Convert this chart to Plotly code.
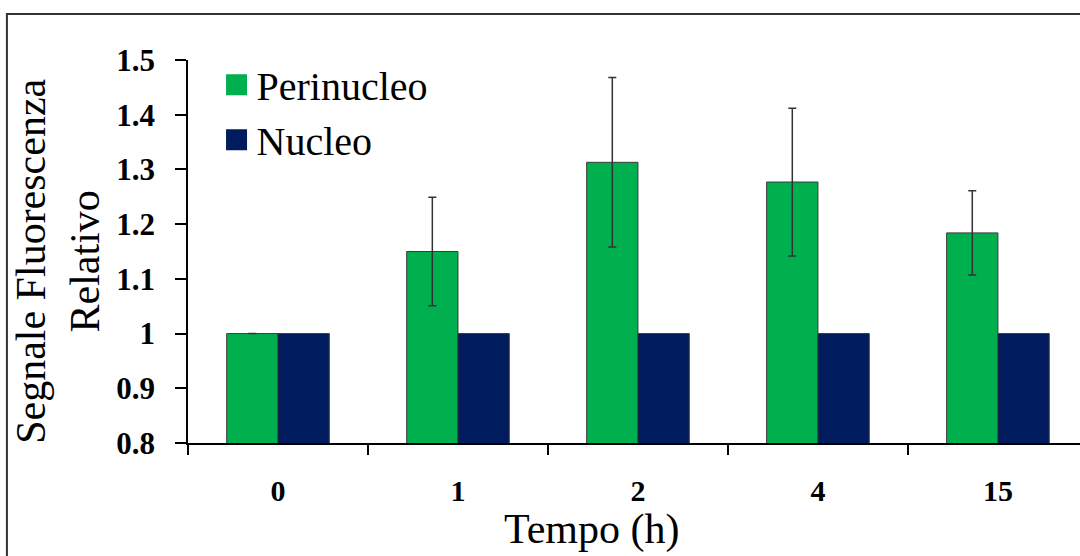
import plotly.graph_objects as go

# Time points (hours) and relative fluorescence signal
time_labels = ["0", "1", "2", "4", "15"]
perinucleo = [1.0, 1.15, 1.313, 1.277, 1.184]
perinucleo_err = [0.0, 0.099, 0.155, 0.135, 0.077]
nucleo = [1.0, 1.0, 1.0, 1.0, 1.0]

y_tick_vals = [0.8, 0.9, 1.0, 1.1, 1.2, 1.3, 1.4, 1.5]
y_tick_text = ["0.8", "0.9", "1", "1.1", "1.2", "1.3", "1.4", "1.5"]

GREEN = "#00B04F"
NAVY = "#001B5E"
SERIF = "Liberation Serif"

fig = go.Figure()

fig.add_trace(go.Bar(
    x=time_labels, y=perinucleo, name="Perinucleo",
    marker=dict(color=GREEN, line=dict(color="#3a3a3a", width=1)),
    error_y=dict(type="data", array=perinucleo_err, visible=True,
                 color="#333333", thickness=1.5, width=4),
    showlegend=False,
))
fig.add_trace(go.Bar(
    x=time_labels, y=nucleo, name="Nucleo",
    marker=dict(color=NAVY, line=dict(color="#3a3a3a", width=1)),
    showlegend=False,
))

# Legend entries with large square swatches
for name, col in [("Perinucleo", GREEN), ("Nucleo", NAVY)]:
    fig.add_trace(go.Scatter(
        x=[None], y=[None], mode="markers", name=name,
        marker=dict(symbol="square", size=16, color=col,
                    line=dict(color=col, width=5)),
    ))

fig.update_layout(
    width=1080, height=556,
    margin=dict(l=188, r=0, t=60, b=113),
    paper_bgcolor="white", plot_bgcolor="white",
    barmode="group", bargap=0.43, bargroupgap=0,
    font=dict(family=SERIF, color="black"),
    legend=dict(
        x=0.032, y=1.02, xanchor="left", yanchor="top",
        bgcolor="rgba(0,0,0,0)", font=dict(size=40, family=SERIF),
        itemsizing="trace", tracegroupgap=0,
    ),
    xaxis=dict(
        type="category", range=[-0.5, 4.456],
        showline=True, linecolor="black", linewidth=1.5,
        ticks="outside", tickson="boundaries", ticklen=10,
        tickcolor="black", tickwidth=1.5,
        tickfont=dict(size=30, family=SERIF, weight="bold"),
        ticklabelstandoff=20, showgrid=False, zeroline=False,
    ),
    yaxis=dict(
        range=[0.8, 1.5], tickvals=y_tick_vals, ticktext=y_tick_text,
        showline=True, linecolor="black", linewidth=1.5,
        ticks="outside", ticklen=11, tickcolor="black", tickwidth=1.5,
        tickfont=dict(size=31, family=SERIF, weight="bold"),
        ticklabelstandoff=14, showgrid=False, zeroline=False,
    ),
    annotations=[
        dict(text="Tempo (h)", xref="paper", yref="paper",
             x=0.453, y=-0.225, xanchor="center", yanchor="middle",
             showarrow=False, font=dict(size=42, family=SERIF)),
        dict(text="Segnale Fluorescenza<br>Relativo", xref="paper", yref="paper",
             x=-0.146, y=0.475, xanchor="center", yanchor="middle",
             textangle=-90, showarrow=False,
             font=dict(size=42, family=SERIF)),
    ],
    shapes=[
        dict(type="rect", xref="paper", yref="paper",
             x0=-0.203, y0=-0.6, x1=1.1, y1=1.12,
             line=dict(color="#333333", width=2), layer="below"),
    ],
)

fig.write_html("out.html")
